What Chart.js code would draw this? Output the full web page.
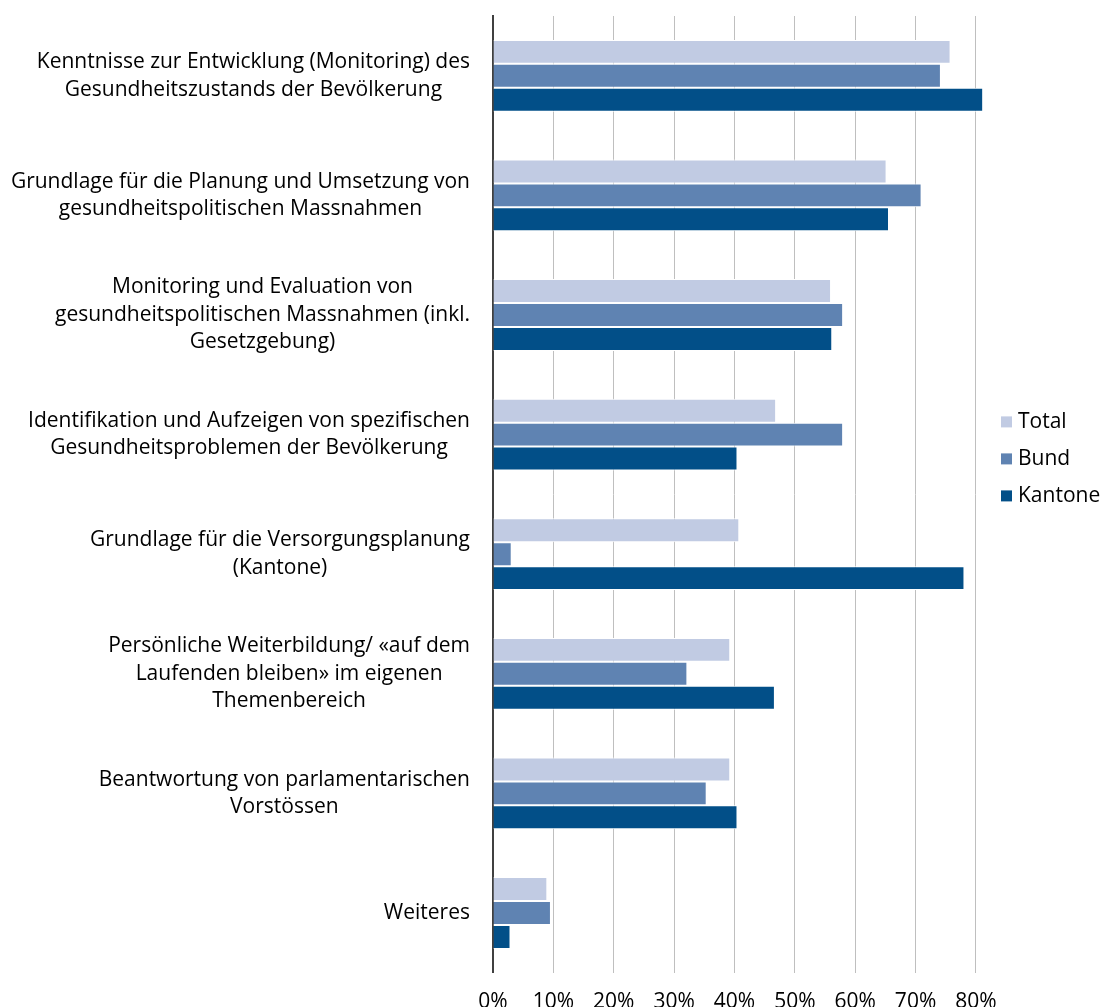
<!DOCTYPE html>
<html>
<head>
<meta charset="utf-8">
<title>Nutzung der Daten</title>
<script src="https://cdn.jsdelivr.net/npm/chart.js@4.4.1/dist/chart.umd.min.js"></script>
<style>
  html, body { margin: 0; padding: 0; background: #fff; }
  canvas { display: block; }
</style>
</head>
<body>
<canvas id="usageChart" width="1102" height="1007"></canvas>
<script>
// categories (each entry = wrapped lines of the axis label)
const categories = [
  ['Kenntnisse zur Entwicklung (Monitoring) des', 'Gesundheitszustands der Bevölkerung'],
  ['Grundlage für die Planung und Umsetzung von', 'gesundheitspolitischen Massnahmen'],
  ['Monitoring und Evaluation von', 'gesundheitspolitischen Massnahmen (inkl.', 'Gesetzgebung)'],
  ['Identifikation und Aufzeigen von spezifischen', 'Gesundheitsproblemen der Bevölkerung'],
  ['Grundlage für die Versorgungsplanung', '(Kantone)'],
  ['Persönliche Weiterbildung/ «auf dem', 'Laufenden bleiben» im eigenen', 'Themenbereich'],
  ['Beantwortung von parlamentarischen', 'Vorstössen'],
  ['Weiteres']
];

const seriesNames = ['Total', 'Bund', 'Kantone'];
const totalValues   = [0.758, 0.652, 0.560, 0.469, 0.408, 0.393, 0.393, 0.090];
const bundValues    = [0.742, 0.710, 0.580, 0.580, 0.031, 0.322, 0.354, 0.096];
const kantoneValues = [0.812, 0.656, 0.562, 0.405, 0.781, 0.467, 0.405, 0.029];
const tickValues = [0, 0.1, 0.2, 0.3, 0.4, 0.5, 0.6, 0.7, 0.8];

const colors = ['#C1CBE3', '#5F83B2', '#024F88'];
const FONT = '"Open Sans"';
const FONT_SIZE = 21;

// category labels: right-aligned block, lines centred inside it
const labelPlugin = {
  id: 'wrappedLabels',
  afterDraw(chart) {
    const ctx = chart.ctx;
    const yScale = chart.scales.y;
    const right = chart.chartArea.left - 23;
    const lh = 27.5;
    ctx.save();
    ctx.font = FONT_SIZE + 'px ' + FONT;
    ctx.fillStyle = '#000';
    ctx.textAlign = 'center';
    ctx.textBaseline = 'middle';
    categories.forEach((lines, i) => {
      const y = yScale.getPixelForValue(i);
      const w = Math.max(...lines.map(l => ctx.measureText(l).width));
      const cx = right - w / 2;
      const y0 = y - (lines.length - 1) * lh / 2;
      lines.forEach((l, j) => ctx.fillText(l, cx, y0 + j * lh));
    });
    ctx.restore();
  }
};

// legend at the right, small squares
const legendPlugin = {
  id: 'sideLegend',
  afterDraw(chart) {
    const ctx = chart.ctx;
    const x = chart.chartArea.right + 13;
    const midY = (chart.chartArea.top + chart.chartArea.bottom) / 2 - 73;
    ctx.save();
    ctx.font = FONT_SIZE + 'px ' + FONT;
    ctx.textBaseline = 'middle';
    chart.data.datasets.forEach((ds, i) => {
      const y = midY + i * 37;
      ctx.fillStyle = ds.backgroundColor;
      ctx.fillRect(x, y - 5, 11, 11);
      ctx.fillStyle = '#000';
      ctx.fillText(ds.label, x + 17, y + 1);
    });
    ctx.restore();
  }
};

const valueLists = [totalValues, bundValues, kantoneValues];

const chart = new Chart(document.getElementById('usageChart').getContext('2d'), {
  type: 'bar',
  data: {
    labels: categories.map(l => l.join(' ')),
    datasets: seriesNames.map((name, i) => ({
      label: name,
      data: valueLists[i],
      backgroundColor: colors[i],
      borderColor: '#ffffff',
      borderWidth: 1,
      borderSkipped: 'start',
      categoryPercentage: 0.6,
      barPercentage: 1
    }))
  },
  options: {
    indexAxis: 'y',
    responsive: false,
    animation: false,
    layout: { padding: { top: 16, right: 114, bottom: -25, left: 0 } },
    plugins: {
      legend: { display: false },
      tooltip: { enabled: false }
    },
    scales: {
      x: {
        min: 0,
        max: 0.82,
        afterBuildTicks: s => { s.ticks = tickValues.map(v => ({ value: v })); },
        ticks: {
          callback: v => Math.round(v * 100) + '%',
          font: { family: FONT, size: FONT_SIZE },
          color: '#000',
          padding: 17,
          maxRotation: 0
        },
        grid: { color: '#BFBFBF', lineWidth: 1, drawTicks: false },
        border: { display: false }
      },
      y: {
        ticks: { display: false },
        grid: { display: false },
        border: { color: '#404040', width: 2 },
        afterFit: s => { s.width = 493; }
      }
    }
  },
  plugins: [labelPlugin, legendPlugin]
});
</script>
</body>
</html>
